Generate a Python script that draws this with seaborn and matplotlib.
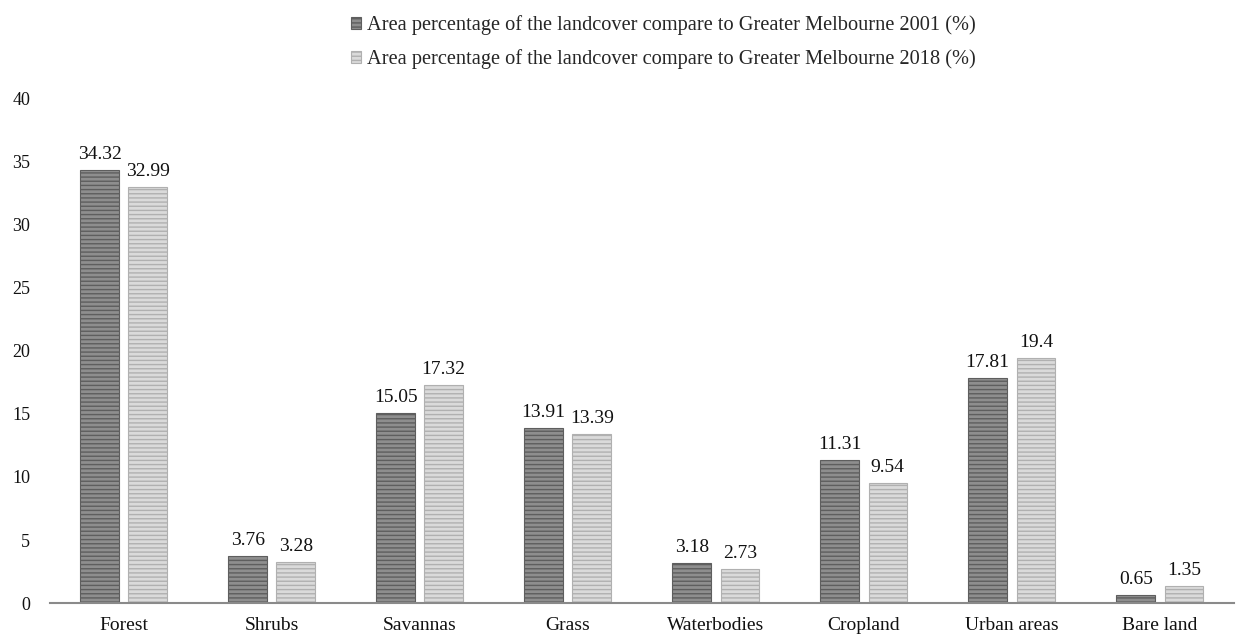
import matplotlib
matplotlib.use("Agg")
import matplotlib.pyplot as plt
from matplotlib.patches import Patch
import seaborn as sns
import pandas as pd

categories = ["Forest", "Shrubs", "Savannas", "Grass", "Waterbodies",
              "Cropland", "Urban areas", "Bare land"]
share_2001 = [34.32, 3.76, 15.05, 13.91, 3.18, 11.31, 17.81, 0.65]
share_2018 = [32.99, 3.28, 17.32, 13.39, 2.73, 9.54, 19.4, 1.35]
series_names = [
    "Area percentage of the landcover compare to Greater Melbourne 2001 (%)",
    "Area percentage of the landcover compare to Greater Melbourne 2018 (%)",
]
label_text_2001 = ["34.32", "3.76", "15.05", "13.91", "3.18", "11.31", "17.81", "0.65"]
label_text_2018 = ["32.99", "3.28", "17.32", "13.39", "2.73", "9.54", "19.4", "1.35"]

df = pd.DataFrame({
    "category": categories * 2,
    "value": share_2001 + share_2018,
    "series": [series_names[0]] * len(categories) + [series_names[1]] * len(categories),
})

sns.set_style("white")
plt.rcParams["font.family"] = ["Liberation Serif", "DejaVu Serif"]
plt.rcParams["hatch.linewidth"] = 1.0

fig = plt.figure(figsize=(12.4, 6.37), dpi=100)
ax = fig.add_axes([0.04, 0.053, 0.955, 0.793])

face = ["#8e8e8e", "#dadada"]
edge = ["#5e5e5e", "#b0b0b0"]
sns.barplot(data=df, x="category", y="value", hue="series", order=categories,
            hue_order=series_names, palette=face, width=0.65, gap=0.2,
            ax=ax, legend=False)

for i, cont in enumerate(ax.containers):
    for bar in cont:
        bar.set_hatch("----")
        bar.set_edgecolor(edge[i])
        bar.set_linewidth(0.8)

for cont, labels in zip(ax.containers, [label_text_2001, label_text_2018]):
    ax.bar_label(cont, labels=labels, padding=5, fontsize=14, color="#111111")

ax.set_ylim(0, 40)
ax.set_yticks(range(0, 41, 5))
ax.set_xlim(-0.5, len(categories) - 0.5)
ax.set_xlabel("")
ax.set_ylabel("")
ax.tick_params(axis="both", length=0, colors="#111111")
ax.tick_params(axis="x", pad=10, labelsize=14)
ax.tick_params(axis="y", pad=14, labelsize=13)
for side in ["top", "right", "left"]:
    ax.spines[side].set_visible(False)
ax.spines["bottom"].set_color("#8a8a8a")
ax.spines["bottom"].set_linewidth(1.5)

handles = [Patch(facecolor=face[i], edgecolor=edge[i], hatch="----", linewidth=0.8)
           for i in range(2)]
fig.legend(handles, series_names, loc="upper center", bbox_to_anchor=(0.535, 1.005),
           ncol=1, frameon=False, fontsize=14.7, handlelength=0.5, handleheight=0.5,
           handletextpad=0.3, labelspacing=0.7)

fig.savefig("out.png", dpi=100, facecolor="white")
